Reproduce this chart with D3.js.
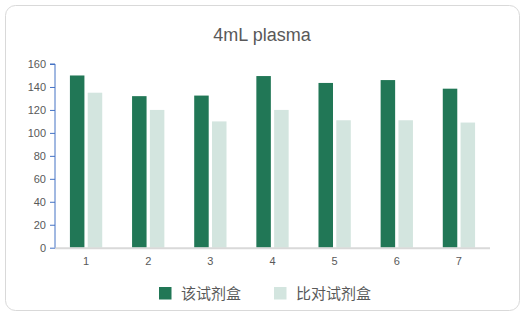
<!DOCTYPE html>
<html>
<head>
<meta charset="utf-8">
<script src="https://cdn.jsdelivr.net/npm/d3@7"></script>
<style>
  body { margin: 0; background: #fff; }
  svg { display: block; font-family: "Noto Sans CJK SC", "Liberation Sans", sans-serif; }
</style>
</head>
<body>
<svg id="chart"></svg>
<script>
const width = 525
const height = 316

// data
const categories = ['1', '2', '3', '4', '5', '6', '7']
const seriesNames = ['该试剂盒', '比对试剂盒']
const kitValues = [150, 132, 132.5, 149.5, 143.5, 146, 138.5]
const refValues = [135, 120, 110, 120, 111, 111, 109]
const yTicks = [0, 20, 40, 60, 80, 100, 120, 140, 160]
const colors = ['#217756', '#d3e5df']

const margin = { left: 55, right: 35, top: 64, bottom: 68 }

const svg = d3.select('#chart')
    .attr('width', width)
    .attr('height', height)

// card border
svg.append('rect')
    .attr('x', 5.5).attr('y', 5.5)
    .attr('width', width - 11).attr('height', height - 11)
    .attr('rx', 10)
    .attr('fill', '#fff')
    .attr('stroke', '#d9d9d9')

svg.append('text')
    .attr('x', 262).attr('y', 41)
    .attr('text-anchor', 'middle')
    .attr('font-family', 'Liberation Sans, sans-serif')
    .attr('font-size', 18)
    .attr('fill', '#595959')
    .text('4mL plasma')

const x = d3.scaleBand()
    .domain(categories)
    .range([margin.left, width - margin.right])

const y = d3.scaleLinear()
    .domain([0, 160])
    .range([247.7, 64])

const barW = 14.5
const gap = 3.3

const rows = categories.map((c, i) => ({ cat: c, vals: [kitValues[i], refValues[i]] }))

const groups = svg.append('g')
    .selectAll('g')
    .data(rows)
    .join('g')
    .attr('transform', d => `translate(${x(d.cat) + x.bandwidth() / 2},0)`)

groups.selectAll('rect')
    .data(d => d.vals)
    .join('rect')
    .attr('x', (v, j) => j === 0 ? -gap / 2 - barW : gap / 2)
    .attr('y', v => y(v))
    .attr('width', barW)
    .attr('height', v => y(0) - y(v))
    .attr('fill', (v, j) => colors[j])

// x axis
svg.append('line')
    .attr('x1', margin.left).attr('x2', width - margin.right)
    .attr('y1', y(0) + 0.5).attr('y2', y(0) + 0.5)
    .attr('stroke', '#d9d9d9')
    .attr('stroke-width', 2)

svg.append('g')
    .selectAll('text')
    .data(categories)
    .join('text')
    .attr('x', d => x(d) + x.bandwidth() / 2)
    .attr('y', 265)
    .attr('text-anchor', 'middle')
    .attr('font-family', 'Liberation Sans, sans-serif')
    .attr('font-size', 11)
    .attr('fill', '#595959')
    .text(d => d)

// y axis
const yAxis = svg.append('g')
    .attr('transform', `translate(${margin.left},0)`)
    .call(d3.axisLeft(y).tickValues(yTicks).tickSize(5).tickPadding(4))

yAxis.select('.domain').attr('stroke', '#4472c4').attr('d', `M-5,${y(160)}H0V${y(0)}`)
yAxis.selectAll('.tick line').attr('stroke', '#4472c4')
yAxis.selectAll('.tick text')
    .attr('font-family', 'Liberation Sans, sans-serif')
    .attr('font-size', 11)
    .attr('fill', '#595959')

// legend
const legendX = [159, 274]
const legend = svg.append('g')
    .selectAll('g')
    .data(seriesNames)
    .join('g')
    .attr('transform', (d, i) => `translate(${legendX[i]},287)`)

legend.append('rect')
    .attr('width', 12.5).attr('height', 12.5)
    .attr('fill', (d, i) => colors[i])

legend.append('text')
    .attr('x', 22).attr('y', 12)
    .attr('font-size', 15)
    .attr('fill', '#595959')
    .text(d => d)
</script>
</body>
</html>
